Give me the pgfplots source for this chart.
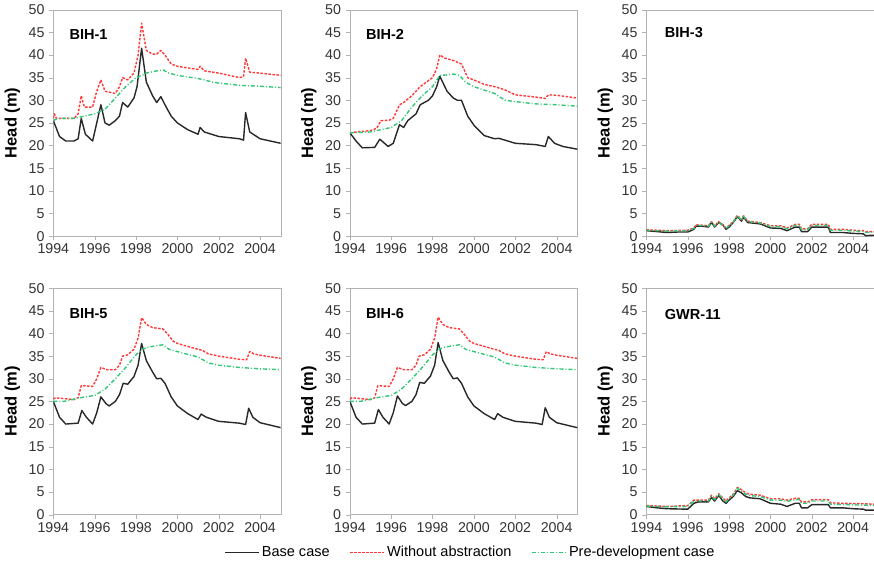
\documentclass[border=0pt]{standalone}
\usepackage{fontspec}
\setmainfont{Liberation Sans}
\usepackage{pgfplots}
\pgfplotsset{compat=1.18}
\usepgfplotslibrary{groupplots}

\definecolor{basec}{RGB}{40,40,40}
\definecolor{redc}{RGB}{255,55,55}
\definecolor{greenc}{RGB}{50,200,120}

\pgfplotsset{
  base/.style={basec, line width=1.4pt},
  woabs/.style={redc, line width=1.4pt, dash pattern=on 2.5pt off 1.5pt},
  predev/.style={greenc, line width=1.4pt, dash pattern=on 4pt off 2pt on 1pt off 2pt},
}

\begin{document}
\fontsize{14}{16}\selectfont
\begin{tikzpicture}
\begin{groupplot}[
  group style={group size=3 by 2, horizontal sep=69pt, vertical sep=52pt},
  scale only axis, width=227pt, height=226pt,
  xmin=1994, xmax=2005, ymin=0, ymax=50,
  xtick={1994,1996,...,2004}, ytick={0,5,...,50},
  /pgf/number format/1000 sep={},
  /pgf/number format/assume math mode=true,
  tick label style={font=\fontsize{14.2}{16}\selectfont, text=black!80},
  xticklabel style={yshift=1pt},
  ylabel={\bfseries Head (m)},
  ylabel style={font=\fontsize{16.5}{18}\selectfont, yshift=-1pt},
  axis line style={gray!60},
  tick style={gray!60},
  tick align=outside, major tick length=4pt,
  xtick pos=bottom, ytick pos=left,
  every axis plot/.append style={line join=round},
  clip=true,
]
% BIH-1
\nextgroupplot
\addplot[base] coordinates {(1994.0,25.5)(1994.3,22)(1994.6,21)(1995.0,21)(1995.2,21.5)(1995.35,26)(1995.55,22.5)(1995.9,21)(1996.1,25)(1996.3,29)(1996.5,25)(1996.7,24.5)(1997.0,25.5)(1997.2,26.5)(1997.35,29.5)(1997.6,28.5)(1997.9,30.5)(1998.05,33)(1998.27,41.5)(1998.5,34)(1998.8,31)(1999.0,29.5)(1999.2,30.8)(1999.4,29)(1999.7,26.5)(2000.0,25)(2000.5,23.5)(2001.0,22.5)(2001.1,24)(2001.3,23)(2002.0,22)(2003.0,21.5)(2003.2,21.2)(2003.3,27.3)(2003.5,23)(2004.0,21.5)(2005.0,20.5)};
\addplot[woabs] coordinates {(1994.0,26)(1994.05,27)(1994.15,26)(1995.0,26)(1995.2,27)(1995.35,31)(1995.5,28.5)(1995.9,28.5)(1996.1,32)(1996.3,34.5)(1996.5,32)(1997.0,31.5)(1997.2,33)(1997.35,35)(1997.6,34.5)(1997.9,36)(1998.1,40)(1998.27,47)(1998.5,41)(1998.8,40.2)(1999.0,40.2)(1999.2,41)(1999.4,40)(1999.7,38)(2000.0,37.5)(2001.0,36.8)(2001.1,37.5)(2001.3,36.5)(2002.0,36)(2003.0,35)(2003.2,35.2)(2003.3,39.3)(2003.5,36.2)(2004.0,36)(2005.0,35.5)};
\addplot[predev] coordinates {(1994.0,25.5)(1994.2,26)(1995.0,26)(1995.5,26.5)(1996.0,27)(1996.5,28)(1997.0,30.5)(1997.5,33)(1998.0,35)(1998.3,35.5)(1998.5,36)(1999.0,36.5)(1999.3,36.7)(1999.6,36)(2000.0,35.5)(2001.0,34.8)(2001.3,34.5)(2001.7,34)(2002.0,33.8)(2003.0,33.3)(2004.0,33.1)(2005.0,32.8)};
\node[anchor=west, font=\fontsize{14.5}{16}\selectfont\bfseries] at (rel axis cs:0.05,0.89) {BIH-1};
% BIH-2
\nextgroupplot
\addplot[base] coordinates {(1994.0,22.8)(1994.3,21)(1994.6,19.5)(1995.2,19.6)(1995.45,21.4)(1995.85,19.8)(1996.1,20.5)(1996.4,24.6)(1996.6,24)(1996.8,25.5)(1997.2,27)(1997.4,29)(1997.8,30)(1998.0,31)(1998.2,33)(1998.35,35.3)(1998.7,32)(1999.0,30.5)(1999.2,30)(1999.4,30)(1999.7,26.5)(2000.0,24.5)(2000.5,22.2)(2001.0,21.5)(2001.2,21.6)(2001.5,21.2)(2002.0,20.5)(2003.0,20.2)(2003.45,19.8)(2003.6,22)(2003.9,20.5)(2004.3,19.8)(2005.0,19.2)};
\addplot[woabs] coordinates {(1994.0,22.8)(1994.3,23)(1995.0,23.3)(1995.3,23.8)(1995.5,25.5)(1995.9,25.6)(1996.1,26)(1996.4,29)(1996.6,29.5)(1997.0,31)(1997.4,33)(1997.7,34)(1998.0,35)(1998.2,37)(1998.35,40)(1998.6,39.3)(1999.0,38.8)(1999.4,38)(1999.7,35)(2000.0,34.5)(2000.5,33.5)(2001.0,33)(2001.5,32.3)(2002.0,31.2)(2003.0,30.7)(2003.45,30.4)(2003.6,31.2)(2004.0,31.1)(2005.0,30.5)};
\addplot[predev] coordinates {(1994.0,22.8)(1995.0,23)(1995.5,23.5)(1996.0,24)(1996.5,25.5)(1997.0,28.5)(1997.5,31)(1998.0,33)(1998.35,35.5)(1998.7,35.6)(1999.0,35.8)(1999.3,35.5)(1999.6,34)(2000.0,33)(2001.0,31.5)(2001.5,30)(2002.0,29.7)(2003.0,29.2)(2004.0,29)(2005.0,28.7)};
\node[anchor=west, font=\fontsize{14.5}{16}\selectfont\bfseries] at (rel axis cs:0.05,0.89) {BIH-2};
% BIH-3
\nextgroupplot
\addplot[base] coordinates {(1994.0,1.2)(1994.5,1.0)(1995.0,0.8)(1995.5,0.9)(1996.0,0.9)(1996.3,1.5)(1996.4,2.2)(1996.7,2.2)(1997.0,2.0)(1997.15,3.0)(1997.3,2.0)(1997.5,3.0)(1997.7,2.5)(1997.85,1.5)(1998.0,2.0)(1998.2,3.0)(1998.4,4.3)(1998.6,3.3)(1998.7,4.2)(1998.9,3.0)(1999.5,2.7)(2000.0,1.8)(2000.5,1.7)(2000.8,1.2)(2001.2,2.0)(2001.4,2.0)(2001.5,1.0)(2001.8,1.0)(2002.0,2.0)(2002.8,2.0)(2002.9,0.8)(2003.5,0.8)(2004.0,0.6)(2004.5,0.5)(2004.6,0.1)(2005.0,0.2)};
\addplot[woabs] coordinates {(1994.0,1.4)(1995.0,1.2)(1996.0,1.3)(1996.3,1.8)(1996.4,2.5)(1997.0,2.3)(1997.15,3.2)(1997.3,2.3)(1997.5,3.2)(1997.85,1.8)(1998.2,3.2)(1998.4,4.6)(1998.6,3.6)(1998.7,4.5)(1998.9,3.3)(1999.5,3.0)(2000.0,2.3)(2000.5,2.3)(2000.8,1.8)(2001.2,2.6)(2001.4,2.6)(2001.5,1.6)(2001.8,1.6)(2002.0,2.6)(2002.8,2.6)(2002.9,1.5)(2003.5,1.5)(2004.0,1.3)(2004.5,1.2)(2004.6,1.0)(2005.0,1.0)};
\addplot[predev] coordinates {(1994.0,1.3)(1995.0,1.1)(1996.0,1.2)(1996.3,1.7)(1996.4,2.4)(1997.0,2.2)(1997.15,3.1)(1997.3,2.2)(1997.5,3.1)(1997.85,1.7)(1998.2,3.1)(1998.4,4.5)(1998.6,3.5)(1998.7,4.4)(1998.9,3.2)(1999.5,2.9)(2000.0,2.1)(2000.5,2.1)(2000.8,1.6)(2001.2,2.4)(2001.4,2.4)(2001.5,1.4)(2001.8,1.4)(2002.0,2.4)(2002.8,2.4)(2002.9,1.3)(2003.5,1.3)(2004.0,1.1)(2004.5,1.0)(2004.6,0.8)(2005.0,0.8)};
\node[anchor=west, font=\fontsize{14.5}{16}\selectfont\bfseries] at (rel axis cs:0.06,0.9) {BIH-3};
% BIH-5
\nextgroupplot
\addplot[base] coordinates {(1994.0,25)(1994.3,21.5)(1994.6,20)(1995.2,20.2)(1995.38,23)(1995.6,21.5)(1995.9,20)(1996.1,22.5)(1996.3,26)(1996.55,24.5)(1996.7,24)(1997.0,25)(1997.2,26.5)(1997.38,29)(1997.6,28.8)(1997.9,30.5)(1998.1,33)(1998.27,37.8)(1998.5,34)(1998.8,31.5)(1999.0,30)(1999.2,30.1)(1999.4,29)(1999.7,26)(2000.0,24)(2000.5,22.3)(2001.0,21)(2001.15,22.2)(2001.4,21.5)(2002.0,20.6)(2003.0,20.2)(2003.3,19.9)(2003.45,23.5)(2003.65,21.5)(2004.0,20.3)(2005.0,19.2)};
\addplot[woabs] coordinates {(1994.0,25.5)(1994.1,25.8)(1995.0,25.4)(1995.2,25.8)(1995.35,28.5)(1995.9,28.3)(1996.1,30)(1996.3,32.5)(1996.6,32)(1997.0,32)(1997.2,33)(1997.35,35)(1997.6,35.3)(1997.9,36.5)(1998.1,39)(1998.27,43.5)(1998.5,42)(1998.8,41.3)(1999.3,41)(1999.5,40)(1999.8,38.3)(2000.0,37.8)(2001.0,36.5)(2001.2,36.3)(2001.5,35.5)(2002.0,35)(2003.0,34.3)(2003.35,34.2)(2003.5,36)(2003.7,35.5)(2004.0,35.2)(2005.0,34.5)};
\addplot[predev] coordinates {(1994.0,25)(1994.5,25)(1995.0,25.5)(1995.5,26)(1996.0,26.3)(1996.5,27.7)(1997.0,30)(1997.5,32.5)(1998.0,35.3)(1998.3,36.5)(1998.6,37)(1999.0,37.3)(1999.3,37.5)(1999.6,36.5)(2000.0,36)(2001.0,34.8)(2001.5,33.5)(2002.0,33)(2003.0,32.5)(2004.0,32.2)(2005.0,32)};
\node[anchor=west, font=\fontsize{14.5}{16}\selectfont\bfseries] at (rel axis cs:0.05,0.89) {BIH-5};
% BIH-6
\nextgroupplot[legend columns=3,
  legend style={at={(0.53,-0.167)}, anchor=center, draw=none, fill=none,
    font=\fontsize{14.5}{16}\selectfont, /tikz/every even column/.append style={column sep=18pt}},
  legend image code/.code={\draw[#1] (0pt,0pt) -- (34pt,0pt);},
  legend cell align=left]
\addplot[base] coordinates {(1994.0,25)(1994.3,21.5)(1994.6,20)(1995.2,20.2)(1995.38,23.2)(1995.6,21.5)(1995.9,20)(1996.1,22.5)(1996.3,26.2)(1996.55,24.5)(1996.7,24.1)(1997.0,25)(1997.2,26.5)(1997.38,29.2)(1997.6,29)(1997.9,30.6)(1998.1,33)(1998.27,38)(1998.5,34)(1998.8,31.5)(1999.0,30)(1999.2,30.2)(1999.4,29)(1999.7,26)(2000.0,24)(2000.5,22.3)(2001.0,21)(2001.15,22.3)(2001.4,21.5)(2002.0,20.6)(2003.0,20.2)(2003.3,19.9)(2003.45,23.6)(2003.65,21.5)(2004.0,20.3)(2005.0,19.2)};
\addplot[woabs] coordinates {(1994.0,25.5)(1994.1,25.8)(1995.0,25.4)(1995.2,25.8)(1995.35,28.5)(1995.9,28.3)(1996.1,30)(1996.3,32.5)(1996.6,32)(1997.0,32)(1997.2,33)(1997.35,35)(1997.6,35.3)(1997.9,36.5)(1998.1,39)(1998.27,43.6)(1998.5,42)(1998.8,41.3)(1999.3,41)(1999.5,40)(1999.8,38.3)(2000.0,37.8)(2001.0,36.5)(2001.2,36.3)(2001.5,35.5)(2002.0,35)(2003.0,34.3)(2003.35,34.2)(2003.5,36)(2003.7,35.5)(2004.0,35.2)(2005.0,34.5)};
\addplot[predev] coordinates {(1994.0,25)(1994.5,25)(1995.0,25.5)(1995.5,26)(1996.0,26.3)(1996.5,27.7)(1997.0,30)(1997.5,32.5)(1998.0,35.3)(1998.3,36.5)(1998.6,37)(1999.0,37.3)(1999.3,37.5)(1999.6,36.5)(2000.0,36)(2001.0,34.8)(2001.5,33.5)(2002.0,33)(2003.0,32.5)(2004.0,32.2)(2005.0,32)};
\node[anchor=west, font=\fontsize{14.5}{16}\selectfont\bfseries] at (rel axis cs:0.05,0.89) {BIH-6};
\legend{Base case, Without abstraction, Pre-development case}
% GWR-11
\nextgroupplot
\addplot[base] coordinates {(1994.0,1.8)(1994.5,1.5)(1995.0,1.3)(1996.0,1.2)(1996.3,2.5)(1996.5,2.8)(1997.0,2.8)(1997.15,3.8)(1997.3,3.0)(1997.5,4.2)(1997.7,3.0)(1997.85,2.5)(1998.0,3.2)(1998.2,4.0)(1998.4,5.3)(1998.6,4.8)(1998.8,4.0)(1999.0,3.7)(1999.5,3.5)(2000.0,2.5)(2000.5,2.3)(2000.8,1.8)(2001.2,2.5)(2001.4,2.5)(2001.5,1.5)(2001.8,1.5)(2002.0,2.2)(2002.8,2.2)(2002.9,1.5)(2003.5,1.5)(2004.0,1.3)(2004.5,1.2)(2004.6,1.0)(2005.0,1.0)};
\addplot[woabs] coordinates {(1994.0,2.0)(1995.0,1.8)(1996.0,2.0)(1996.3,3.2)(1997.0,3.2)(1997.15,4.3)(1997.3,3.5)(1997.5,4.6)(1997.85,3.0)(1998.0,3.7)(1998.2,4.5)(1998.4,6.0)(1998.6,5.5)(1998.8,4.8)(1999.0,4.5)(1999.5,4.3)(2000.0,3.5)(2000.5,3.5)(2000.8,3.2)(2001.2,3.6)(2001.4,3.6)(2001.5,2.8)(2001.8,2.8)(2002.0,3.3)(2002.8,3.3)(2002.9,2.6)(2003.5,2.5)(2004.5,2.4)(2005.0,2.3)};
\addplot[predev] coordinates {(1994.0,1.9)(1995.0,1.7)(1996.0,1.8)(1996.3,3.0)(1997.0,3.0)(1997.15,4.1)(1997.3,3.3)(1997.5,4.4)(1997.85,2.8)(1998.0,3.5)(1998.2,4.3)(1998.4,5.8)(1998.6,5.3)(1998.8,4.5)(1999.0,4.2)(1999.5,4.0)(2000.0,3.2)(2000.5,3.2)(2000.8,2.9)(2001.2,3.3)(2001.4,3.3)(2001.5,2.5)(2001.8,2.5)(2002.0,3.0)(2002.8,3.0)(2002.9,2.3)(2003.5,2.2)(2004.5,2.1)(2005.0,2.0)};
\node[anchor=west, font=\fontsize{14.5}{16}\selectfont\bfseries] at (rel axis cs:0.06,0.885) {GWR-11};
\end{groupplot}
\end{tikzpicture}
\end{document}
